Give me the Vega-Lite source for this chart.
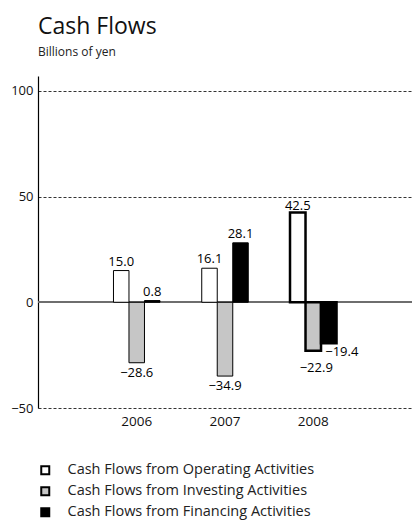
{
  "$schema": "https://vega.github.io/schema/vega-lite/v6.json",
  "width": 374,
  "height": 332,
  "autosize": {"type": "none"},
  "padding": {"left": 38, "top": 76, "right": 0, "bottom": 114},
  "background": "white",
  "title": {
    "text": "Cash Flows",
    "subtitle": "Billions of yen",
    "anchor": "start",
    "frame": "group",
    "offset": 18,
    "font": "Open Sans",
    "fontSize": 23,
    "fontWeight": "normal",
    "color": "#111",
    "subtitleFont": "Open Sans",
    "subtitleFontSize": 12,
    "subtitleColor": "#222",
    "subtitlePadding": 8
  },
  "config": {
    "view": {"stroke": null},
    "font": "Open Sans",
    "legend": {"labelFont": "Open Sans"}
  },
  "data": {
    "values": [
      {"year": "2006", "type": "Cash Flows from Operating Activities", "value": 15.0},
      {"year": "2006", "type": "Cash Flows from Investing Activities", "value": -28.6},
      {"year": "2006", "type": "Cash Flows from Financing Activities", "value": 0.8},
      {"year": "2007", "type": "Cash Flows from Operating Activities", "value": 16.1},
      {"year": "2007", "type": "Cash Flows from Investing Activities", "value": -34.9},
      {"year": "2007", "type": "Cash Flows from Financing Activities", "value": 28.1},
      {"year": "2008", "type": "Cash Flows from Operating Activities", "value": 42.5},
      {"year": "2008", "type": "Cash Flows from Investing Activities", "value": -22.9},
      {"year": "2008", "type": "Cash Flows from Financing Activities", "value": -19.4}
    ]
  },
  "encoding": {
    "x": {
      "field": "year",
      "type": "nominal",
      "scale": {"paddingInner": 0.473, "paddingOuter": 0.855},
      "axis": {
        "title": null,
        "domain": false,
        "ticks": false,
        "labelAngle": 0,
        "labelFontSize": 13.5,
        "labelColor": "#111",
        "labelPadding": 6
      }
    },
    "xOffset": {
      "field": "type",
      "type": "nominal",
      "sort": [
        "Cash Flows from Operating Activities",
        "Cash Flows from Investing Activities",
        "Cash Flows from Financing Activities"
      ],
      "scale": {"paddingInner": 0, "paddingOuter": 0}
    },
    "y": {
      "field": "value",
      "type": "quantitative",
      "scale": {"domain": [-50, 107], "nice": false, "zero": true},
      "axis": {
        "title": null,
        "values": [-50, 0, 50, 100],
        "ticks": false,
        "domainColor": "#000",
        "domainWidth": 1.2,
        "labelFontSize": 13,
        "labelColor": "#111",
        "labelPadding": 5,
        "gridColor": "#333",
        "gridDash": [3, 2],
        "gridWidth": 1
      }
    }
  },
  "layer": [
    {
      "mark": {"type": "rule", "color": "#6e6e6e", "strokeWidth": 1.5},
      "encoding": {
        "x": {"value": 0},
        "x2": {"value": 374},
        "xOffset": null,
        "y": {"datum": 0}
      }
    },
    {
      "mark": {"type": "bar", "stroke": "#000"},
      "encoding": {
        "fill": {
          "field": "type",
          "type": "nominal",
          "sort": [
            "Cash Flows from Operating Activities",
            "Cash Flows from Investing Activities",
            "Cash Flows from Financing Activities"
          ],
          "scale": {"range": ["#ffffff", "#c6c6c6", "#000000"]},
          "legend": {
            "title": null,
            "orient": "none",
            "legendX": 0,
            "legendY": 387,
            "symbolType": "square",
            "symbolSize": 64,
            "symbolStrokeColor": "#000",
            "symbolStrokeWidth": 2,
            "symbolOffset": 0,
            "labelOffset": 15,
            "labelFontSize": 14.5,
            "labelColor": "#222",
            "rowPadding": 4,
            "labelLimit": 400
          }
        },
        "strokeWidth": {
          "condition": {"test": "datum.year === '2008'", "value": 2.5},
          "value": 1
        }
      }
    },
    {
      "transform": [{"filter": "datum.value >= 0 && datum.year !== '2008'"}],
      "mark": {"type": "text", "baseline": "alphabetic", "dy": -5, "fontSize": 13, "color": "#000"},
      "encoding": {"text": {"field": "value", "type": "quantitative", "format": ".1f"}}
    },
    {
      "transform": [{"filter": "datum.value >= 0 && datum.year === '2008'"}],
      "mark": {"type": "text", "baseline": "alphabetic", "dy": -2, "fontSize": 13, "color": "#000"},
      "encoding": {"text": {"field": "value", "type": "quantitative", "format": ".1f"}}
    },
    {
      "transform": [{"filter": "datum.value < 0 && datum.year !== '2008'"}],
      "mark": {"type": "text", "baseline": "top", "dy": 4, "fontSize": 13, "color": "#000"},
      "encoding": {"text": {"field": "value", "type": "quantitative", "format": ".1f"}}
    },
    {
      "transform": [{"filter": "datum.value < 0 && datum.year === '2008' && datum.value < -20"}],
      "mark": {"type": "text", "baseline": "top", "dy": 11, "dx": 3, "fontSize": 13, "color": "#000"},
      "encoding": {"text": {"field": "value", "type": "quantitative", "format": ".1f"}}
    },
    {
      "transform": [{"filter": "datum.value < 0 && datum.year === '2008' && datum.value > -20"}],
      "mark": {"type": "text", "baseline": "top", "dy": 3, "dx": 13, "fontSize": 13, "color": "#000"},
      "encoding": {"text": {"field": "value", "type": "quantitative", "format": ".1f"}}
    }
  ]
}
